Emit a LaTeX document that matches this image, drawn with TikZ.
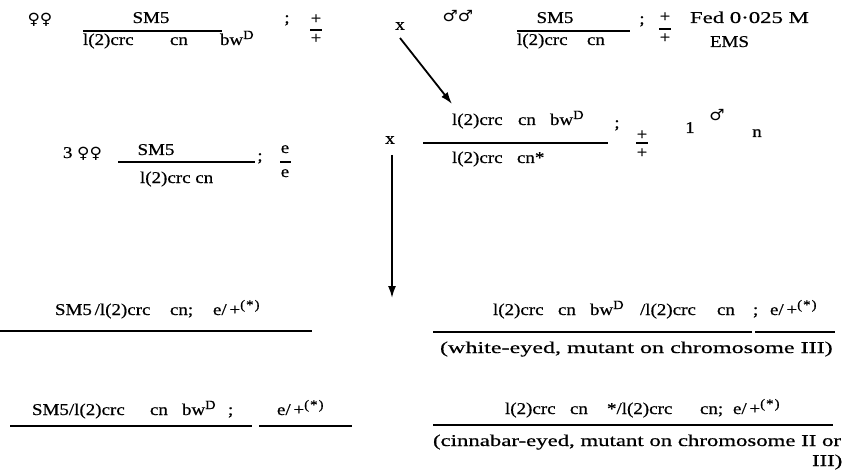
\documentclass[tikz,border=0pt]{standalone}
\usepackage{fontspec}
\setmainfont[FakeStretch=1.15,FakeBold=0.6]{Liberation Serif}
\newfontfamily\wide[FakeStretch=1.38,FakeBold=0.6]{Liberation Serif}
\newfontfamily\widew[FakeStretch=1.46,FakeBold=0.6]{Liberation Serif}
\newfontfamily\symf[FakeStretch=1.1]{DejaVu Sans}
\usetikzlibrary{arrows.meta}
\newcommand{\fem}{{\symf\fontsize{15.5}{15.5}\selectfont ♀}}
\newcommand{\mal}{{\symf\fontsize{15.5}{15.5}\selectfont ♂}}
\newcommand{\sD}{{\fontsize{12.5}{12.5}\selectfont\raisebox{6pt}{D}}}
\newcommand{\sst}{{\fontsize{13}{13}\selectfont\raisebox{6pt}{(\kern1pt*\kern1pt)}}}
\begin{document}
\begin{tikzpicture}[x=1pt,y=-1pt,
  every node/.style={inner sep=0pt, outer sep=0pt, font=\fontsize{16.5}{18}\selectfont},
  txt/.style={anchor=base west},
  ctr/.style={anchor=base},
  prose/.style={anchor=base west, font=\fontsize{16.5}{18}\selectfont\wide},
  prosew/.style={anchor=base west, font=\fontsize{16.5}{18}\selectfont\widew},
  rule/.style={line width=1.7pt},
  arr/.style={line width=1.8pt, -{Latex[length=12pt,width=8pt]}}]
\useasboundingbox (0,0) rectangle (846,476);

% ---------- row 1, left
\node (f1) at (40,20) {\fem\fem};
\node[ctr] (r1a) at (151,23) {SM5};
\draw[rule] (83,31) -- (222,31);
\node[txt] (r1b) at (83,45) {l(2)crc};
\node[txt] (r1c) at (170,45) {cn};
\node[txt] (r1d) at (220,45) {bw\sD};
\node[ctr] (r1s) at (287,23) {;};
\node (r1p) at (316,19) {+};
\draw[rule] (310,30) -- (322,30);
\node (r1q) at (316,38.5) {+};
% ---------- row 1, right
\node (x1) at (400,26) {x};
\node (m1) at (458,16) {\mal\mal};
\node[ctr] (r1e) at (555,23) {SM5};
\draw[rule] (517,31) -- (630,31);
\node[txt] (r1f) at (517,45) {l(2)crc};
\node[txt] (r1g) at (587,45) {cn};
\node[ctr] (r1h) at (642,24) {;};
\node (r1i) at (665,17) {+};
\draw[rule] (659,29) -- (671,29);
\node (r1j) at (665,38) {+};
\node[prose] (fed) at (690,23) {Fed 0·025 M};
\node[txt] (ems) at (710,47) {EMS};

% ---------- row 2, left
\node[txt] (three) at (63,158) {3 \fem\fem};
\node[ctr] (r2a) at (156,155) {SM5};
\draw[rule] (118,162) -- (255,162);
\node[txt] (r2b) at (140,183) {l(2)crc cn};
\node[ctr] (r2s) at (260,161) {;};
\node[ctr] (r2e1) at (285,153) {e};
\draw[rule] (280,162) -- (291,162);
\node[ctr] (r2e2) at (285,177) {e};
% ---------- row 2, right
\node (x2) at (390,140) {x};
\node[txt] (r2f1) at (452,125) {l(2)crc};
\node[txt] (r2f2) at (518,125) {cn};
\node[txt] (r2f3) at (550,125) {bw\sD};
\draw[rule] (423,143) -- (608,143);
\node[txt] (r2g1) at (452,163) {l(2)crc};
\node[txt] (r2g2) at (517,163) {cn*};
\node[ctr] (r2s2) at (617,128) {;};
\node (r2p) at (642,135) {+};
\draw[rule] (636,143) -- (648,143);
\node (r2q) at (642,153) {+};
\node[ctr] (one) at (690,133) {1};
\node (m2) at (717,115) {\mal};
\node[ctr] (nn) at (757,137) {n};

% ---------- arrows
\coordinate (a1s) at (400,38);
\coordinate (a1e) at (452,104);
\draw[arr] (a1s) -- (a1e);
\coordinate (a2s) at (392,155);
\coordinate (a2e) at (392,298);
\draw[arr] (a2s) -- (a2e);

% ---------- row 3, left
\node[txt] (r3a) at (55,315) {SM5\,/l(2)crc};
\node[txt] (r3b) at (170,315) {cn;};
\node[txt] (r3c) at (213,315) {e/\,+\sst};
\draw[rule] (0,331) -- (312,331);
% ---------- row 3, right
\node[txt] (r3d) at (493,315) {l(2)crc};
\node[txt] (r3e) at (558,315) {cn};
\node[txt] (r3f) at (590,315) {bw\sD};
\node[txt] (r3g) at (640,315) {/l(2)crc};
\node[txt] (r3h) at (717,315) {cn};
\node[txt] (r3i) at (753,315) {;};
\node[txt] (r3j) at (770,315) {e/\,+\sst};
\draw[rule] (433,332) -- (752,332);
\draw[rule] (755,332) -- (835,332);
\node[prosew] (white) at (440,353) {(white-eyed, mutant on chromosome III)};

% ---------- row 4, left
\node[txt] (r4a) at (32,415) {SM5/l(2)crc};
\node[txt] (r4b) at (150,415) {cn};
\node[txt] (r4c) at (182,415) {bw\sD};
\node[txt] (r4d) at (228,415) {;};
\node[txt] (r4e) at (277,415) {e/\,+\sst};
\draw[rule] (10,426) -- (252,426);
\draw[rule] (259,426) -- (352,426);
% ---------- row 4, right
\node[txt] (r4f) at (505,414) {l(2)crc};
\node[txt] (r4g) at (570,414) {cn};
\node[txt] (r4h) at (607,414) {*/l(2)crc};
\node[txt] (r4i) at (700,414) {cn;};
\node[txt] (r4j) at (733,414) {e/\,+\sst};
\draw[rule] (433,425) -- (833,425);
\node[prose] (cinn) at (433,446) {(cinnabar-eyed, mutant on chromosome II or};
\node[prose] (iii) at (812,466) {III)};
\end{tikzpicture}
\end{document}
